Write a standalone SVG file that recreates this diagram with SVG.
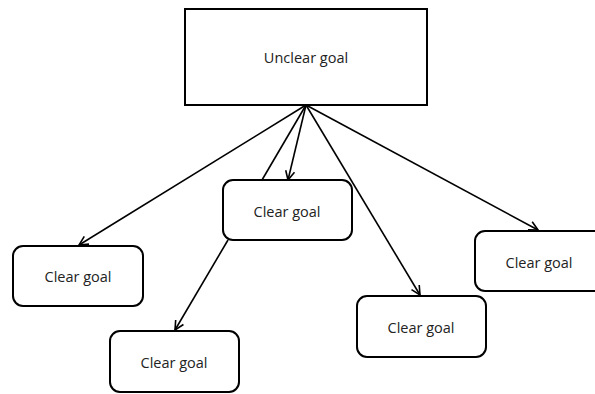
<svg xmlns="http://www.w3.org/2000/svg" width="595" height="394" viewBox="0 0 595 394">
<defs>
<style>
.box{fill:#fff;stroke:#000;stroke-width:2}
.lbl{font-family:"Open Sans","Liberation Sans",sans-serif;font-size:14.5px;fill:#222;text-anchor:middle;dominant-baseline:central}
.edge{stroke:#000;stroke-width:1.6;fill:none}
</style>
<marker id="arr" markerWidth="12" markerHeight="12" refX="10" refY="5" orient="auto" markerUnits="userSpaceOnUse" viewBox="0 0 12 10">
<path d="M1,0.5 L10,5 L1,9.5" fill="none" stroke="#000" stroke-width="1.6"/>
</marker>
</defs>
<rect width="595" height="394" fill="#fff"/>
<g id="connectors">
<line class="edge" x1="306" y1="105" x2="262" y2="180"/>
<line class="edge" x1="306" y1="105" x2="288" y2="180" marker-end="url(#arr)"/>
<line class="edge" x1="306" y1="105" x2="79" y2="245" marker-end="url(#arr)"/>
<line class="edge" x1="306" y1="105" x2="420" y2="295" marker-end="url(#arr)"/>
<line class="edge" x1="306" y1="105" x2="538" y2="230" marker-end="url(#arr)"/>
<line class="edge" x1="228" y1="240" x2="175" y2="330" marker-end="url(#arr)"/>
</g>
<g id="n-unclear">
<rect class="box" x="185" y="9" width="242" height="96"/>
<text class="lbl" x="306" y="57">Unclear goal</text>
</g>
<g id="n-center">
<rect class="box" x="223" y="180" width="129" height="60" rx="10"/>
<text class="lbl" x="287" y="211">Clear goal</text>
</g>
<g id="n-left">
<rect class="box" x="13" y="246" width="130" height="60" rx="10"/>
<text class="lbl" x="78" y="276">Clear goal</text>
</g>
<g id="n-bottom">
<rect class="box" x="110" y="331" width="129" height="61" rx="10"/>
<text class="lbl" x="174" y="362">Clear goal</text>
</g>
<g id="n-rightbottom">
<rect class="box" x="357" y="296" width="129" height="61" rx="10"/>
<text class="lbl" x="421" y="327">Clear goal</text>
</g>
<g id="n-right">
<rect class="box" x="475" y="231" width="130" height="60" rx="10"/>
<text class="lbl" x="539" y="262">Clear goal</text>
</g>
</svg>
